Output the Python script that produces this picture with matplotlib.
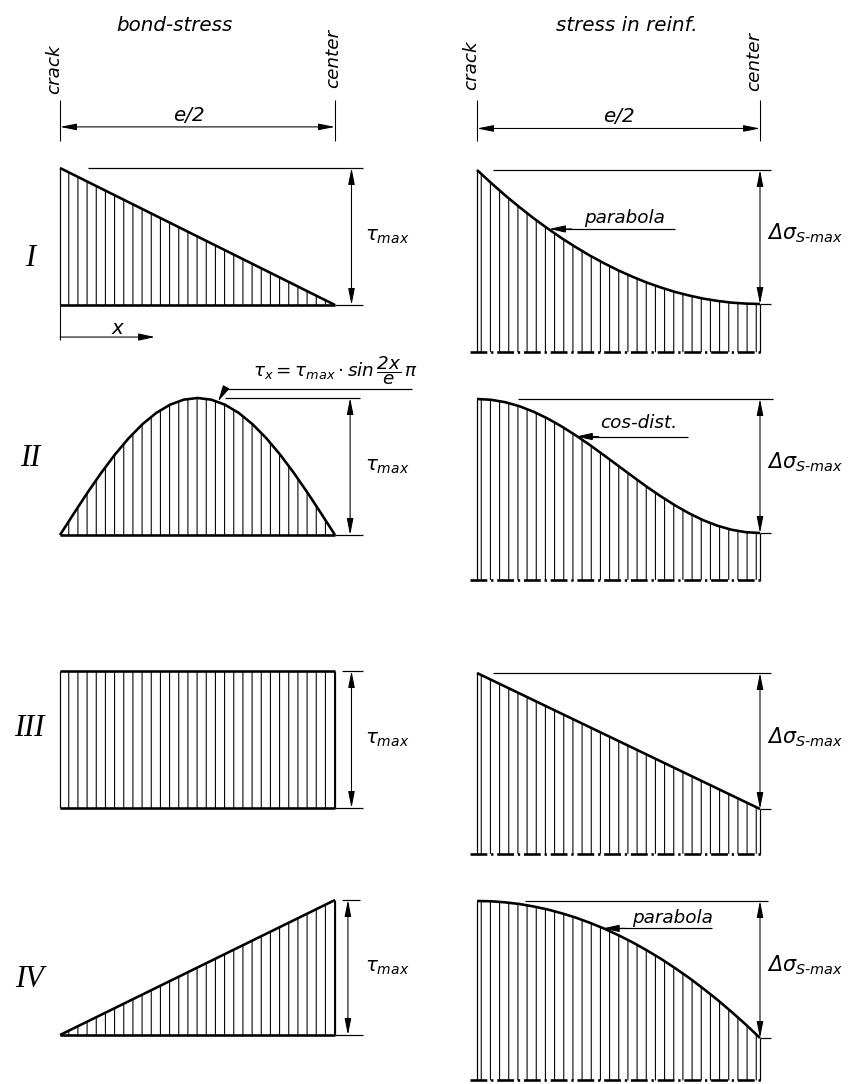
import matplotlib
matplotlib.use('Agg')
import matplotlib.pyplot as plt

W, H, DPI = 849, 1084, 110

plt.rcParams['font.family'] = 'DejaVu Sans'
plt.rcParams['font.style'] = 'italic'
plt.rcParams['mathtext.fontset'] = 'dejavusans'
plt.rcParams['hatch.linewidth'] = 0.7
plt.rcParams['hatch.color'] = 'black'
plt.rcParams['lines.scale_dashes'] = False

# stations along e/2  (0 = crack, 1 = center)
x_lin = [0.0, 1.0]
x_cur = [0.0, 0.05, 0.1, 0.15, 0.2, 0.25, 0.3, 0.35, 0.4, 0.45, 0.5,
         0.55, 0.6, 0.65, 0.7, 0.75, 0.8, 0.85, 0.9, 0.95, 1.0]

# bond stress, in units of tau_max
bond_I = [1.0, 0.0]
bond_II = [0.0, 0.156, 0.309, 0.454, 0.588, 0.707, 0.809, 0.891, 0.951, 0.988, 1.0,
           0.988, 0.951, 0.891, 0.809, 0.707, 0.588, 0.454, 0.309, 0.156, 0.0]
bond_III = [1.0, 1.0]
bond_IV = [0.0, 1.0]

# stress in reinforcement above the value at the center, in units of delta sigma_s-max
steel_I = [1.0, 0.903, 0.810, 0.723, 0.640, 0.563, 0.490, 0.423, 0.360, 0.303, 0.250,
           0.203, 0.160, 0.123, 0.090, 0.063, 0.040, 0.023, 0.010, 0.003, 0.0]
steel_II = [1.0, 0.994, 0.976, 0.946, 0.905, 0.854, 0.794, 0.727, 0.655, 0.578, 0.500,
            0.422, 0.345, 0.273, 0.206, 0.146, 0.095, 0.054, 0.024, 0.006, 0.0]
steel_III = [1.0, 0.0]
steel_IV = [1.0, 0.998, 0.990, 0.978, 0.960, 0.938, 0.910, 0.878, 0.840, 0.798, 0.750,
            0.698, 0.640, 0.578, 0.510, 0.438, 0.360, 0.278, 0.190, 0.098, 0.0]
steel_base = [-0.36, -0.35, -0.33, -0.31]

cases = ['I', 'II', 'III', 'IV']
bond = [(x_lin, bond_I), (x_cur, bond_II), (x_lin, bond_III), (x_lin, bond_IV)]
steel = [(x_cur, steel_I), (x_cur, steel_II), (x_lin, steel_III), (x_cur, steel_IV)]

THICK, THIN, DIM = 1.7, 0.8, 0.7
ARR2 = dict(arrowstyle='<|-|>,head_length=0.9,head_width=0.18', color='k', lw=DIM,
            shrinkA=0, shrinkB=0, mutation_scale=10)
ARR1 = dict(arrowstyle='-|>,head_length=0.9,head_width=0.2', color='k', lw=DIM,
            shrinkA=0, shrinkB=0, mutation_scale=10)

fig = plt.figure(figsize=(W / DPI, H / DPI), dpi=DPI)


def add_panel(x0, x1, y_one, y_zero, lo):
    # pixel box of a diagram, y_one / y_zero = pixel rows of value 1 and 0
    scale = y_zero - y_one
    ybot = y_zero - lo * scale
    ax = fig.add_axes([x0 / W, 1 - ybot / H, (x1 - x0) / W, (ybot - y_one) / H])
    ax.set_xlim(0, 1)
    ax.set_ylim(lo, 1)
    ax.axis('off')
    return ax


def line(ax, xx, yy, lw, **kw):
    ax.plot(xx, yy, color='k', lw=lw, clip_on=False, solid_capstyle='butt', **kw)


left_rows = [(168, 305), (398, 535), (671, 808), (900, 1035)]
right_rows = [(170, 304), (399, 533), (673, 809), (901, 1038)]

left_ref = [(0.1, 1.1), (0.6, 1.09), (1.025, 1.1), (1.025, 1.09)]
left_dim = [1.06, 1.055, 1.06, 1.047]
num_y = [0.34, 0.56, 0.58, 0.41]

right_ref = [(0.055, 1.04), (0.145, 1.045), (0.055, 1.04), (0.17, 1.03)]

DSIG = r'$\Delta\sigma_{S\text{-}max}$'

axL, axR = [], []
for k in range(4):
    # ---- bond stress ----
    ax = add_panel(60, 335, left_rows[k][0], left_rows[k][1], 0)
    axL.append(ax)
    xb, yb = bond[k]
    ax.fill_between(xb, 0, yb, facecolor='none', edgecolor='k', hatch='||',
                    linewidth=0, clip_on=False)
    line(ax, xb, yb, THICK)
    line(ax, [0, 1], [0, 0], THICK)
    if yb[0] > 0:
        line(ax, [0, 0], [0, yb[0]], THIN)
    if yb[-1] > 0:
        line(ax, [1, 1], [0, yb[-1]], THIN)
    line(ax, [1, 1.1], [0, 0], THIN)
    line(ax, list(left_ref[k]), [1, 1], THIN)
    ax.annotate('', xy=(left_dim[k], 1), xytext=(left_dim[k], 0),
                arrowprops=ARR2, annotation_clip=False)
    ax.text(1.11, 0.5, r'$\tau_{max}$', fontsize=13, ha='left', va='center')
    ax.text(-0.11, num_y[k], cases[k], fontsize=20, family='Liberation Serif',
            style='italic', ha='center', va='center')

    # ---- stress in reinforcement ----
    lo = steel_base[k]
    ax = add_panel(477, 760, right_rows[k][0], right_rows[k][1], lo)
    axR.append(ax)
    xs, ys = steel[k]
    ax.fill_between(xs, lo, ys, facecolor='none', edgecolor='k', hatch='||',
                    linewidth=0, clip_on=False)
    line(ax, xs, ys, THICK)
    line(ax, [0, 0], [lo, ys[0]], THIN)
    line(ax, [1, 1], [lo, ys[-1]], THIN)
    line(ax, [-0.025, 1.01], [lo, lo], THICK, linestyle=(0, (11, 2.5, 1.5, 2.5)))
    line(ax, list(right_ref[k]), [1, 1], THIN)
    line(ax, [1, 1.04], [ys[-1], ys[-1]], THIN)
    ax.annotate('', xy=(1.0, 1), xytext=(1.0, ys[-1]), arrowprops=ARR2,
                annotation_clip=False)
    ax.text(1.025, (1 + ys[-1]) / 2 + 0.03, DSIG, fontsize=13.5, ha='left', va='center')

# headers
for ax, title, xt, yt, ticks, ya, xe, ye, cr, ce in [
        (axL[0], 'bond-stress', 0.418, 2.04, (1.20, 1.50), 1.30, 0.47, 1.38, (-0.02, 1.72), (0.993, 1.80)),
        (axR[0], 'stress in reinf.', 0.53, 2.08, (1.22, 1.52), 1.31, 0.50, 1.40, (-0.02, 1.78), (0.98, 1.81))]:
    ax.text(xt, yt, title, fontsize=13, ha='center', va='center')
    ax.text(cr[0], cr[1], 'crack', fontsize=12, rotation=90, ha='center', va='center')
    ax.text(ce[0], ce[1], 'center', fontsize=12, rotation=90, ha='center', va='center')
    line(ax, [0, 0], list(ticks), DIM)
    line(ax, [1, 1], list(ticks), DIM)
    ax.annotate('', xy=(0, ya), xytext=(1, ya), arrowprops=ARR2, annotation_clip=False)
    ax.text(xe, ye, 'e/2', fontsize=13, ha='center', va='center')

# x arrow under case I
ax = axL[0]
line(ax, [0, 0], [0, -0.255], DIM)
ax.annotate('', xy=(0.345, -0.234), xytext=(0, -0.234), arrowprops=ARR1,
            annotation_clip=False)
ax.text(0.21, -0.17, 'x', fontsize=13, ha='center', va='center')

# formula of case II
ax = axL[1]
line(ax, [0.6, 1.28], [1.065, 1.065], THIN)
ax.annotate('', xy=(0.575, 0.975), xytext=(0.6, 1.065), arrowprops=ARR1,
            annotation_clip=False)
ax.text(1.0, 1.2, r'$\tau_x = \tau_{max} \cdot sin\,\dfrac{2x}{e}\,\pi$', fontsize=12,
        ha='center', va='center')

# curve names on the steel side
for ax, name, xt, yt, x_tip, x_end, y_lead in [
        (axR[0], 'parabola', 0.52, 0.64, 0.255, 0.70, 0.56),
        (axR[1], 'cos-dist.', 0.57, 0.82, 0.35, 0.745, 0.72),
        (axR[3], 'parabola', 0.69, 0.876, 0.445, 0.83, 0.80)]:
    ax.text(xt, yt, name, fontsize=12, ha='center', va='center')
    line(ax, [x_tip + 0.03, x_end], [y_lead, y_lead], THIN)
    ax.annotate('', xy=(x_tip, y_lead), xytext=(x_tip + 0.08, y_lead), arrowprops=ARR1,
                annotation_clip=False)

fig.savefig('out.png', dpi=DPI, facecolor='white')
